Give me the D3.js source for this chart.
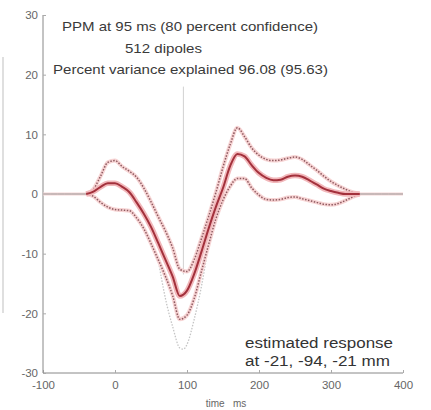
<!DOCTYPE html>
<html>
<head>
<meta charset="utf-8">
<script src="https://cdn.jsdelivr.net/npm/d3@7"></script>
<style>
  body { margin: 0; background: #fff; }
  svg { display: block; }
</style>
</head>
<body>
<svg id="chart" width="431" height="410"></svg>
<script>
// time axis (ms) and responses
const times = [-100, -90, -80, -70, -60, -50, -40, -30, -20, -10,
  0, 10, 20, 30, 40, 50, 60, 70, 80, 90,
  100, 110, 120, 130, 140, 150, 160, 170, 180, 190,
  200, 210, 220, 230, 240, 250, 260, 270, 280, 290,
  300, 310, 320, 330, 340, 350, 360, 370, 380, 390, 400]

const meanResp = [0, 0, 0, 0, 0, 0, 0, 0.4, 1.2, 1.8,
  1.8, 1.2, 0.3, -1.4, -3.3, -5.5, -8.2, -11, -13.8, -17.1,
  -16.2, -13.4, -9.7, -5.8, -2.2, 1, 4.7, 6.7, 6.3, 4.8,
  3.5, 2.7, 2.3, 2.4, 2.9, 3.1, 2.9, 2.3, 1.6, 0.9,
  0.5, 0.2, 0, 0, 0, 0, 0, 0, 0, 0, 0]

const upperBound = [0, 0, 0, 0, 0, 0, 0, 0.8, 3, 5.3,
  5.6, 4.6, 3.8, 2.8, 1, -1.3, -3.8, -6.2, -9, -12.6,
  -13, -11, -7.5, -3.8, 0.2, 4.5, 8.3, 11.1, 9.6, 7.7,
  6.5, 5.8, 5.6, 5.7, 6, 6.2, 5.8, 4.9, 4, 3,
  2.1, 1.4, 0.8, 0.3, 0, 0, 0, 0, 0, 0, 0]

const lowerBound = [0, 0, 0, 0, 0, 0, 0, -0.4, -1.4, -2.2,
  -2.6, -2.7, -2.8, -4, -5.8, -8.3, -11, -13.8, -17, -21,
  -20.3, -17.5, -13, -8.5, -4.2, -1, 1.3, 2.6, 2.6, 1,
  -0.2, -0.9, -1, -0.9, -0.6, -0.5, -0.8, -1.1, -1.4, -1.7,
  -1.8, -1.6, -1.1, -0.5, 0, 0, 0, 0, 0, 0, 0]

// faint outer bound, only visible round the trough
const outerTimes = [60, 70, 80, 90, 95, 100, 110, 120, 130]
const outerLower = [-11, -17.5, -22.2, -25.8, -26, -25.2, -21, -15.5, -8.5]

const xTicks = [-100, 0, 100, 200, 300, 400]
const yTicks = [-30, -20, -10, 0, 10, 20, 30]
const titleLines = ["PPM at 95 ms (80 percent confidence)", "512 dipoles",
  "Percent variance explained 96.08 (95.63)"]
const noteLines = ["estimated response", "at -21, -94, -21 mm"]

function drawChart() {
    const svg = d3.select("#chart")
    const FONT = "'Liberation Sans', Arial, sans-serif"

    let x = d3.scaleLinear().domain([-100, 400]).range([43, 403])
    let y = d3.scaleLinear().domain([-30, 30]).range([373, 15])

    // stray frame edge at the far left
    svg.append("line")
        .attr("x1", 3).attr("x2", 3)
        .attr("y1", 57).attr("y2", 313)
        .attr("stroke", "#d4d4d4")
        .attr("stroke-width", 1.5)

    // axes, matlab style (ticks point inwards)
    let xAxis = d3.axisBottom(x).tickValues(xTicks).tickFormat(d => String(d)).tickSize(-3).tickPadding(8)
    let yAxis = d3.axisLeft(y).tickValues(yTicks).tickFormat(d => String(d)).tickSize(-3).tickPadding(5)

    svg.append("g")
        .attr("transform", "translate(0," + y(-30) + ")")
        .call(xAxis)
        .call(g => g.select(".domain").attr("stroke", "#888").attr("d", "M" + x(-100) + ",0H" + x(400)))
        .call(g => g.selectAll(".tick line").attr("stroke", "#aaa"))
        .call(g => g.selectAll("text").attr("fill", "#666").attr("font-size", 11.5).attr("font-family", FONT))

    svg.append("g")
        .attr("transform", "translate(" + x(-100) + ",0)")
        .call(yAxis)
        .call(g => g.select(".domain").attr("stroke", "#888").attr("d", "M0," + y(30) + "V" + y(-30)))
        .call(g => g.selectAll(".tick line").attr("stroke", "#aaa"))
        .call(g => g.selectAll("text").attr("fill", "#666").attr("font-size", 11.5).attr("font-family", FONT))

    svg.append("text")
        .attr("x", x(150) + 3)
        .attr("y", 407)
        .attr("text-anchor", "middle")
        .attr("font-family", FONT)
        .attr("font-size", 10)
        .attr("fill", "#666")
        .attr("xml:space", "preserve")
        .text("time   ms")

    // marker at 95 ms
    svg.append("line")
        .attr("x1", x(95)).attr("x2", x(95))
        .attr("y1", y(18)).attr("y2", y(-13.5))
        .attr("stroke", "#d2d2d2")
        .attr("stroke-width", 1)

    let line = d3.line()
        .x(d => x(d[0]))
        .y(d => y(d[1]))
        .curve(d3.curveMonotoneX)

    const meanPts = times.map((t, i) => [t, meanResp[i]])
    const upPts = times.map((t, i) => [t, upperBound[i]])
    const lowPts = times.map((t, i) => [t, lowerBound[i]])
    const outerPts = outerTimes.map((t, i) => [t, outerLower[i]])

    // where the bounds collapse the trace is only a thin grey baseline
    const spread = i => upperBound[i] !== lowerBound[i]
    const active = (d, i) => spread(i) || (i > 0 && spread(i - 1)) || (i < times.length - 1 && spread(i + 1))

    svg.append("path")
        .attr("d", line(meanPts))
        .attr("fill", "none")
        .attr("stroke", "#f6d6d6")
        .attr("stroke-width", 3)
    svg.append("path")
        .attr("d", line(meanPts))
        .attr("fill", "none")
        .attr("stroke", "#9a9a9a")
        .attr("stroke-width", 1)

    svg.append("path")
        .attr("d", line(outerPts))
        .attr("fill", "none")
        .attr("stroke", "#c4c4c4")
        .attr("stroke-width", 1.3)
        .attr("stroke-dasharray", "1.5 1.5")

    // pink halos behind the bounds
    ;[upPts, lowPts].forEach(pts => {
        svg.append("path")
            .attr("d", line.defined(active)(pts))
            .attr("fill", "none")
            .attr("stroke", "#f7d4d4")
            .attr("stroke-width", 4)
    })
    ;[upPts, lowPts].forEach(pts => {
        svg.append("path")
            .attr("d", line.defined(active)(pts))
            .attr("fill", "none")
            .attr("stroke", "#8e5a60")
            .attr("stroke-width", 1.5)
            .attr("stroke-dasharray", "1.5 1.5")
    })

    svg.append("path")
        .attr("d", line.defined(active)(meanPts))
        .attr("fill", "none")
        .attr("stroke", "#f2b8bb")
        .attr("stroke-width", 5.5)
    svg.append("path")
        .attr("d", line.defined(active)(meanPts))
        .attr("fill", "none")
        .attr("stroke", "#a3313c")
        .attr("stroke-width", 2)

    // title block
    const titleX = [62, 125, 53], titleY = [31, 53, 74], titleW = [256, 77, 275]
    titleLines.forEach((s, i) => {
        svg.append("text")
            .attr("x", titleX[i])
            .attr("y", titleY[i])
            .attr("font-family", FONT)
            .attr("font-size", 13.5)
            .attr("fill", "#3a3a3a")
            .attr("textLength", titleW[i])
            .attr("lengthAdjust", "spacingAndGlyphs")
            .text(s)
    })

    const noteY = [348, 366], noteW = [148, 145]
    noteLines.forEach((s, i) => {
        svg.append("text")
            .attr("x", 245)
            .attr("y", noteY[i])
            .attr("font-family", FONT)
            .attr("font-size", 15.5)
            .attr("fill", "#333")
            .attr("textLength", noteW[i])
            .attr("lengthAdjust", "spacingAndGlyphs")
            .text(s)
    })
}

drawChart()
</script>
</body>
</html>
